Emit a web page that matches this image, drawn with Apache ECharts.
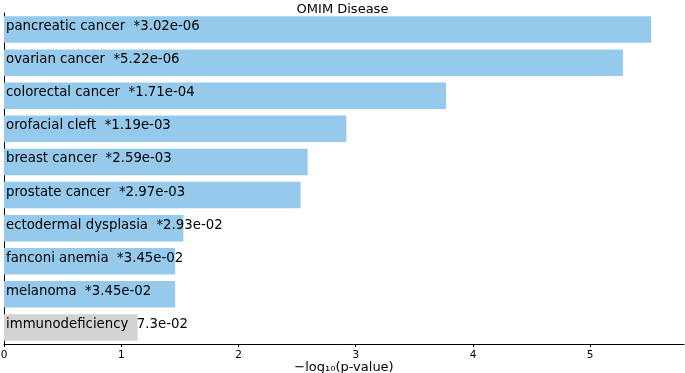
<!DOCTYPE html>
<html>
<head>
<meta charset="utf-8">
<script src="https://cdn.jsdelivr.net/npm/echarts@6/dist/echarts.min.js"></script>
<style>
  html, body { margin: 0; padding: 0; background: #fff; }
  #chart { width: 685px; height: 373px; }
</style>
</head>
<body>
<div id="chart"></div>
<script>
const terms = ['pancreatic cancer', 'ovarian cancer', 'colorectal cancer', 'orofacial cleft',
  'breast cancer', 'prostate cancer', 'ectodermal dysplasia', 'fanconi anemia', 'melanoma', 'immunodeficiency'];
const pvalText = ['*3.02e-06', '*5.22e-06', '*1.71e-04', '*1.19e-03', '*2.59e-03',
  '*2.97e-03', '*2.93e-02', '*3.45e-02', '*3.45e-02', '7.3e-02'];
const scores = [5.52, 5.28, 3.77, 2.92, 2.59, 2.53, 1.53, 1.46, 1.46, 1.14];
const significant = [true, true, true, true, true, true, true, true, true, false];
const xTicks = [0, 1, 2, 3, 4, 5];

const chart = echarts.init(document.getElementById('chart'));
const font = 'DejaVu Sans';

const option = {
  animation: false,
  textStyle: { fontFamily: font },
  title: {
    text: 'OMIM Disease',
    left: 'center',
    top: -2,
    textStyle: { fontFamily: font, fontSize: 13, fontWeight: 'normal', color: '#000' }
  },
  grid: { left: 4, right: 1, top: 13, bottom: 29, outerBoundsMode: 'none' },
  xAxis: {
    type: 'value',
    min: 0,
    max: 5.8,
    interval: 1,
    name: '\u2212log\u2081\u2080(p-value)',
    nameLocation: 'middle',
    nameGap: 17,
    nameMoveOverlap: false,
    nameTextStyle: { fontFamily: font, fontSize: 13, color: '#000' },
    axisLine: { show: true, lineStyle: { color: '#000', width: 1 } },
    axisTick: { show: true, length: 3, customValues: xTicks, lineStyle: { color: '#000' } },
    axisLabel: {
      fontFamily: font, fontSize: 10.5, color: '#000', margin: 6,
      customValues: xTicks
    },
    splitLine: { show: false }
  },
  yAxis: {
    type: 'category',
    data: terms,
    inverse: true,
    axisLine: { show: true, lineStyle: { color: '#000', width: 1 } },
    axisTick: { show: false },
    axisLabel: { show: false },
    splitLine: { show: false }
  },
  series: [{
    type: 'bar',
    barCategoryGap: '20%',
    data: scores.map((v, i) => ({
      value: v,
      itemStyle: { color: significant[i] ? '#95caec' : '#d3d3d3' },
      label: {
        show: true,
        position: 'insideLeft',
        distance: 2,
        offset: [0, -3],
        fontFamily: font,
        fontSize: 13.3,
        color: '#000',
        formatter: terms[i] + '  ' + pvalText[i]
      }
    }))
  }]
};
chart.setOption(option);
</script>
</body>
</html>
